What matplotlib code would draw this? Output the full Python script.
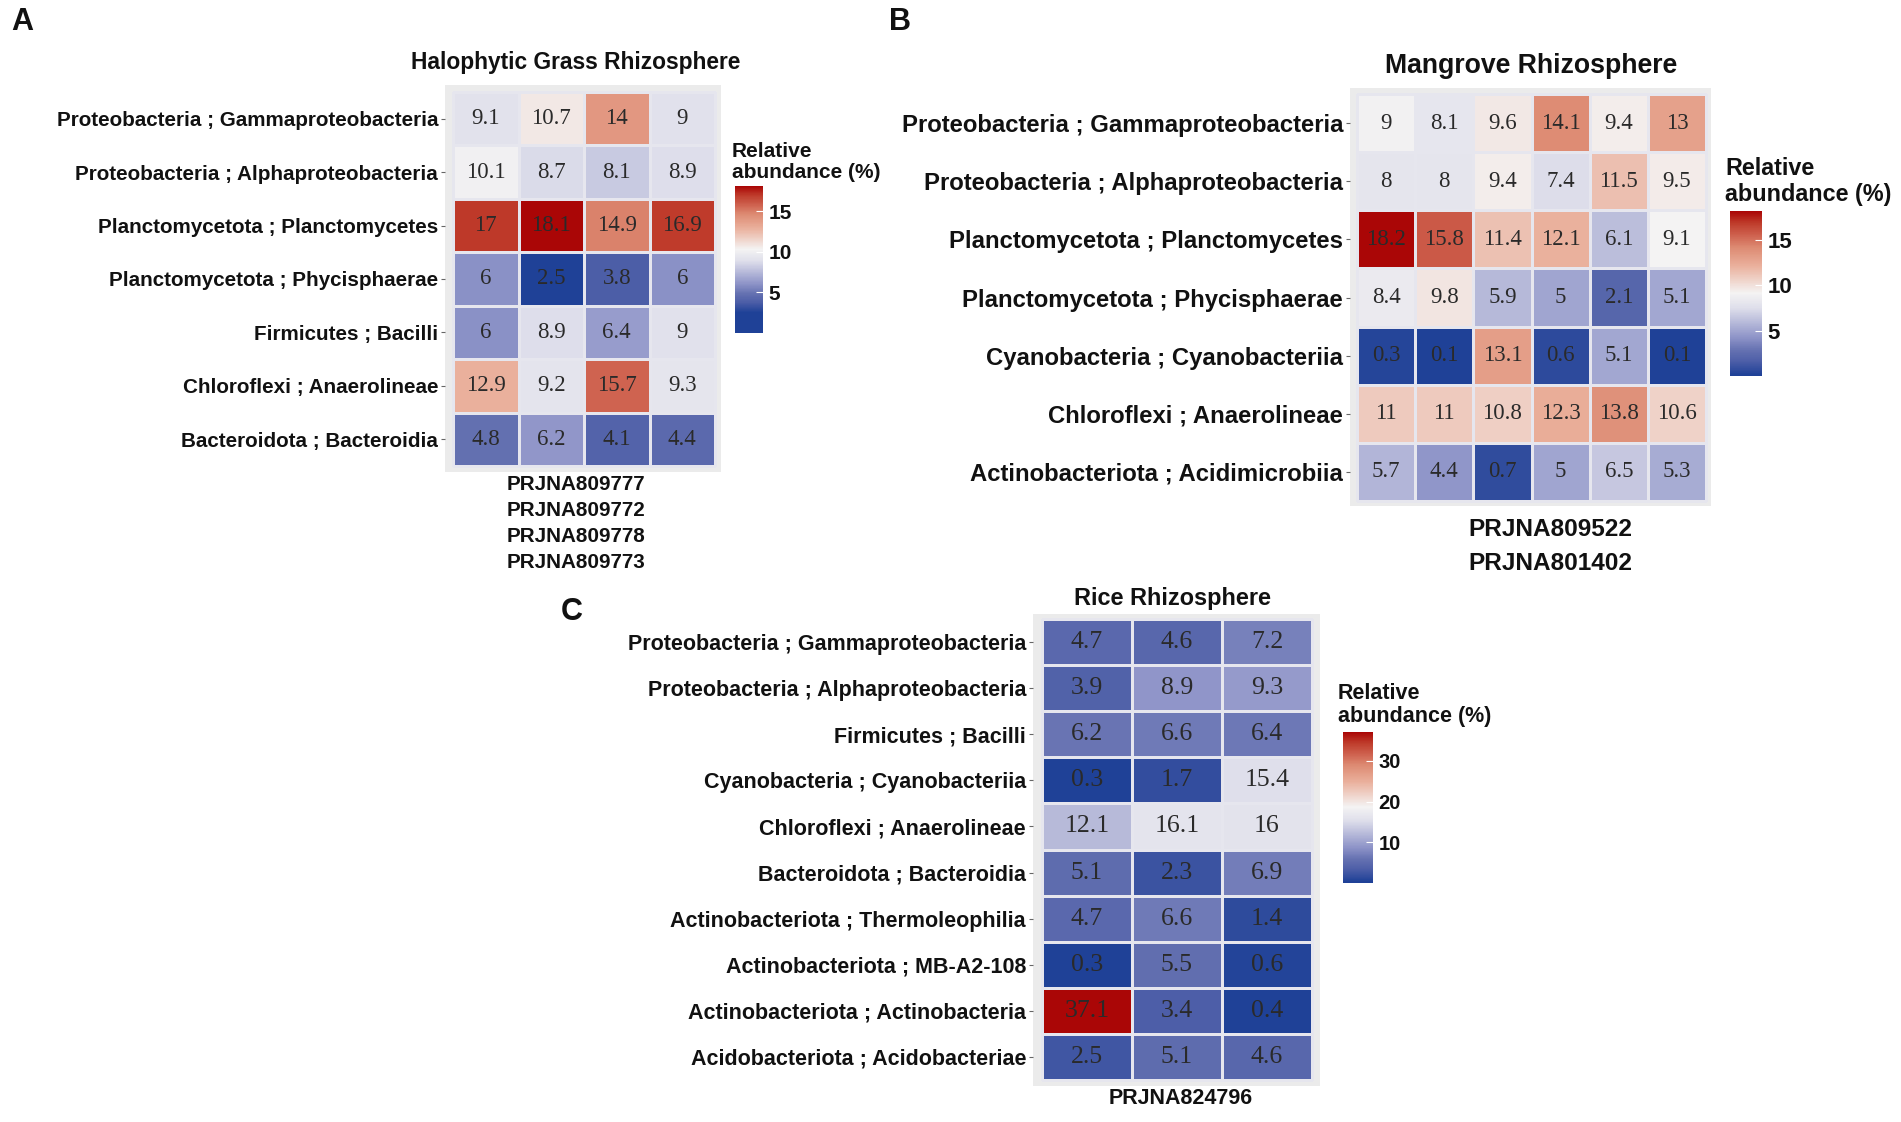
import numpy as np
import matplotlib
matplotlib.use("Agg")
import matplotlib.pyplot as plt
from matplotlib.colors import LinearSegmentedColormap, Normalize

plt.rcParams["font.family"] = ["Liberation Sans", "DejaVu Sans"]

# Panel A - Halophytic grass rhizosphere
a_taxa = ["Proteobacteria ; Gammaproteobacteria", "Proteobacteria ; Alphaproteobacteria",
          "Planctomycetota ; Planctomycetes", "Planctomycetota ; Phycisphaerae",
          "Firmicutes ; Bacilli", "Chloroflexi ; Anaerolineae", "Bacteroidota ; Bacteroidia"]
a_samples = ["PRJNA809777", "PRJNA809772", "PRJNA809778", "PRJNA809773"]
a_values = [[9.1, 10.7, 14, 9],
            [10.1, 8.7, 8.1, 8.9],
            [17, 18.1, 14.9, 16.9],
            [6, 2.5, 3.8, 6],
            [6, 8.9, 6.4, 9],
            [12.9, 9.2, 15.7, 9.3],
            [4.8, 6.2, 4.1, 4.4]]

# Panel B - Mangrove rhizosphere
b_taxa = ["Proteobacteria ; Gammaproteobacteria", "Proteobacteria ; Alphaproteobacteria",
          "Planctomycetota ; Planctomycetes", "Planctomycetota ; Phycisphaerae",
          "Cyanobacteria ; Cyanobacteriia", "Chloroflexi ; Anaerolineae",
          "Actinobacteriota ; Acidimicrobiia"]
b_samples = ["PRJNA809522", "PRJNA801402"]
b_values = [[9, 8.1, 9.6, 14.1, 9.4, 13],
            [8, 8, 9.4, 7.4, 11.5, 9.5],
            [18.2, 15.8, 11.4, 12.1, 6.1, 9.1],
            [8.4, 9.8, 5.9, 5, 2.1, 5.1],
            [0.3, 0.1, 13.1, 0.6, 5.1, 0.1],
            [11, 11, 10.8, 12.3, 13.8, 10.6],
            [5.7, 4.4, 0.7, 5, 6.5, 5.3]]

# Panel C - Rice rhizosphere
c_taxa = ["Proteobacteria ; Gammaproteobacteria", "Proteobacteria ; Alphaproteobacteria",
          "Firmicutes ; Bacilli", "Cyanobacteria ; Cyanobacteriia", "Chloroflexi ; Anaerolineae",
          "Bacteroidota ; Bacteroidia", "Actinobacteriota ; Thermoleophilia",
          "Actinobacteriota ; MB-A2-108", "Actinobacteriota ; Actinobacteria",
          "Acidobacteriota ; Acidobacteriae"]
c_samples = ["PRJNA824796"]
c_values = [[4.7, 4.6, 7.2],
            [3.9, 8.9, 9.3],
            [6.2, 6.6, 6.4],
            [0.3, 1.7, 15.4],
            [12.1, 16.1, 16],
            [5.1, 2.3, 6.9],
            [4.7, 6.6, 1.4],
            [0.3, 5.5, 0.6],
            [37.1, 3.4, 0.4],
            [2.5, 5.1, 4.6]]

# gradient stops (fraction of the data range -> colour), blue / white / red
grad_stops = [(0.0, "#1F4197"), (0.085, "#4E5FA8"), (0.15, "#6571B1"), (0.225, "#8C92C7"),
              (0.41, "#DFDFEB"), (0.5, "#F4F3F3"), (0.667, "#EAB09C"), (0.78, "#DD8A72"),
              (0.85, "#CF6350"), (0.93, "#BE3A2A"), (1.0, "#AA0606")]

W, H = 1901, 1122
fig = plt.figure(figsize=(W / 100, H / 100), dpi=100)


def px_axes(x0, y0, x1, y1):
    return fig.add_axes([x0 / W, 1 - y1 / H, (x1 - x0) / W, (y1 - y0) / H])


def panel_cmap(vmin, vmax):
    # colour bar runs from 0, gradient spans the data range
    stops = [(0.0, grad_stops[0][1])]
    for s, c in grad_stops:
        stops.append(((vmin + s * (vmax - vmin)) / vmax, c))
    return LinearSegmentedColormap.from_list("gg", stops)


def heat_panel(values, taxa, samples, cells, grey, title, title_xy, title_fs,
               lab_fs, num_fs, cbar_box, cb_ticks, cb_fs, cbt_fs, cb_title_xy,
               samp_xy, samp_fs, samp_gap):
    vals = np.array(values)
    nrow, ncol = vals.shape
    cw = (cells[2] - cells[0]) / ncol
    ch = (cells[3] - cells[1]) / nrow
    ax = px_axes(*grey)
    ax.set_facecolor("#EBEBEB")
    mesh = ax.pcolormesh(np.arange(ncol + 1), np.arange(nrow + 1), vals,
                         cmap=panel_cmap(vals.min(), vals.max()), norm=Normalize(0, vals.max()),
                         edgecolors="#E6E6EE", linewidth=0.9)
    ax.set_xlim(-(cells[0] - grey[0]) / cw, ncol + (grey[2] - cells[2]) / cw)
    ax.set_ylim(nrow + (grey[3] - cells[3]) / ch, -(cells[1] - grey[1]) / ch)
    for i in range(nrow):
        for j in range(ncol):
            ax.text(j + 0.5, i + 0.5, f"{vals[i, j]:g}", ha="center", va="center",
                    family="Liberation Serif", fontsize=num_fs, color="#2A2A2A")
    ax.set_yticks(np.arange(nrow) + 0.5)
    ax.set_yticklabels(taxa, fontsize=lab_fs, fontweight="bold", color="#111111")
    ax.set_xticks([])
    ax.tick_params(axis="y", length=3, width=0.8, color="#666666", pad=2)
    for s in ax.spines.values():
        s.set_visible(False)

    fig.text(title_xy[0] / W, 1 - title_xy[1] / H, title, ha="center", va="center",
             fontsize=title_fs, fontweight="bold", color="#111111")

    cax = px_axes(*cbar_box)
    cb = fig.colorbar(mesh, cax=cax, ticks=cb_ticks)
    cb.outline.set_visible(False)
    cax.tick_params(direction="in", color="white", length=5, width=0.8, labelsize=cb_fs, pad=4)
    for t in cax.get_yticklabels():
        t.set_fontweight("bold")
        t.set_color("#111111")
    fig.text(cb_title_xy[0] / W, 1 - cb_title_xy[1] / H, "Relative\nabundance (%)",
             ha="left", va="bottom", fontsize=cbt_fs, fontweight="bold", color="#111111",
             linespacing=1.15)

    for k, s in enumerate(samples):
        fig.text(samp_xy[0] / W, 1 - (samp_xy[1] + k * samp_gap) / H, s, ha="center", va="center",
                 fontsize=samp_fs, fontweight="bold", color="#111111")


heat_panel(a_values, a_taxa, a_samples, cells=(453, 92, 715, 466), grey=(445, 85, 721, 472),
           title="Halophytic Grass Rhizosphere", title_xy=(576, 63), title_fs=16.4,
           lab_fs=14.9, num_fs=16.5, cbar_box=(735, 186, 763, 333), cb_ticks=[5, 10, 15],
           cb_fs=15, cbt_fs=15, cb_title_xy=(732, 182), samp_xy=(576, 485), samp_fs=14.9, samp_gap=26)

heat_panel(b_values, b_taxa, b_samples, cells=(1357, 94, 1706, 501), grey=(1350, 88, 1711, 506),
           title="Mangrove Rhizosphere", title_xy=(1531, 66), title_fs=19.2,
           lab_fs=17.2, num_fs=16.5, cbar_box=(1730, 211, 1762, 376), cb_ticks=[5, 10, 15],
           cb_fs=16, cbt_fs=16.8, cb_title_xy=(1725, 206), samp_xy=(1550, 530), samp_fs=17.6, samp_gap=33)

heat_panel(c_values, c_taxa, c_samples, cells=(1042, 619, 1312, 1080), grey=(1033, 614, 1320, 1086),
           title="Rice Rhizosphere", title_xy=(1172, 598), title_fs=16.9,
           lab_fs=15.5, num_fs=18.5, cbar_box=(1343, 732, 1373, 883), cb_ticks=[10, 20, 30],
           cb_fs=14.5, cbt_fs=15.5, cb_title_xy=(1338, 727), samp_xy=(1181, 1098), samp_fs=15.5, samp_gap=26)

for letter, x, y in [("A", 22, 22), ("B", 900, 22), ("C", 572, 612)]:
    fig.text(x / W, 1 - y / H, letter, ha="center", va="center", fontsize=22,
             fontweight="bold", color="#111111")

fig.savefig("out.png", dpi=100, facecolor="white")
